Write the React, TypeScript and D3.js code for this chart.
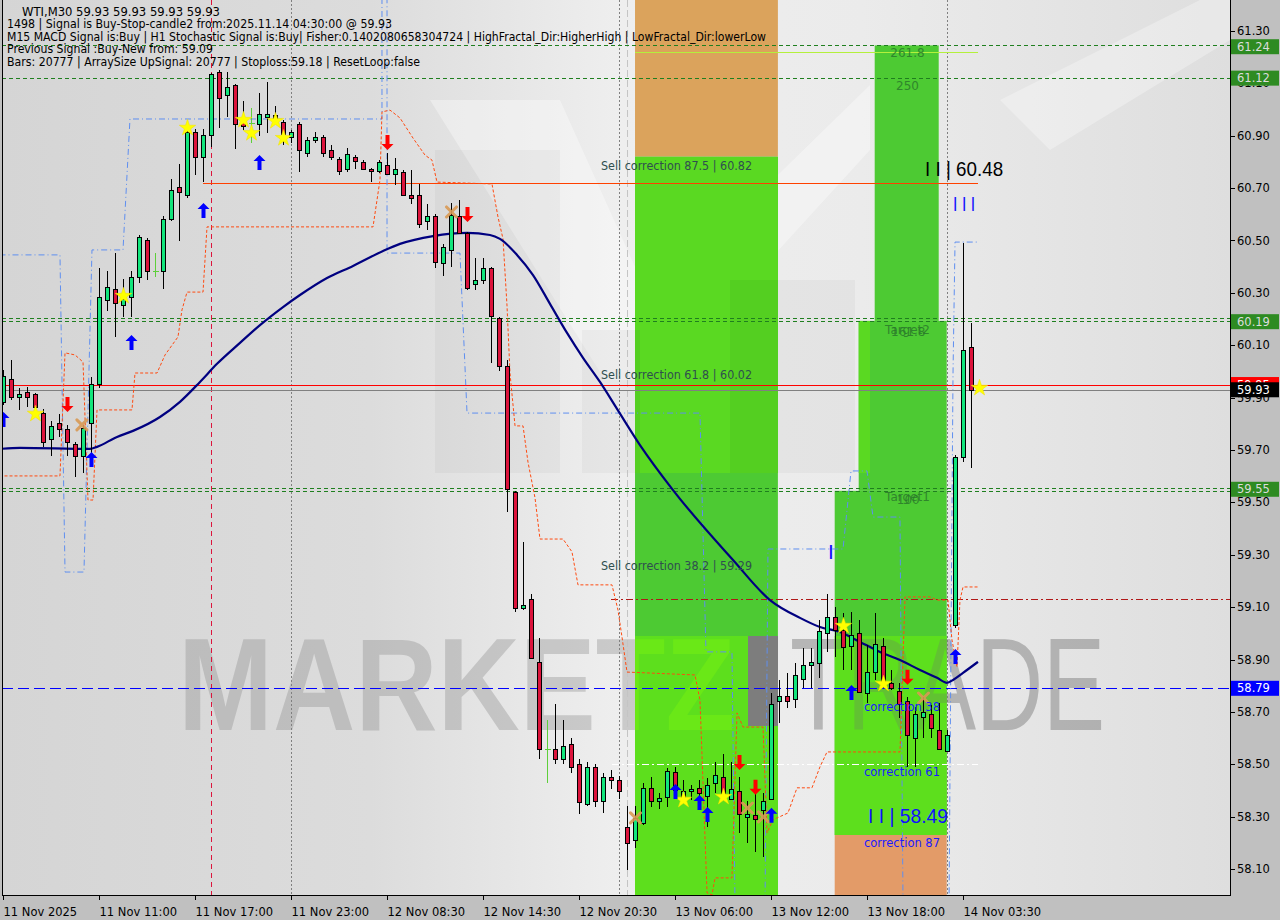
import React from "react";
import * as d3 from "d3";

// ---------- DATA ----------
// bar index 0..121 (30 min bars), [open, high, low, close]
const ohlc: [number, number, number, number][] = [
  [59.883, 60.005, 59.872, 59.983], [59.971, 60.044, 59.891, 59.902], [59.902, 59.937, 59.853, 59.914], [59.921, 59.941, 59.864, 59.902],
  [59.914, 59.918, 59.853, 59.864], [59.841, 59.857, 59.711, 59.731], [59.742, 59.811, 59.677, 59.792], [59.803, 59.837, 59.750, 59.780],
  [59.780, 59.795, 59.677, 59.731], [59.723, 59.731, 59.597, 59.677], [59.677, 59.795, 59.612, 59.784], [59.803, 59.979, 59.689, 59.952],
  [59.952, 60.395, 59.937, 60.284], [60.273, 60.383, 60.231, 60.322], [60.315, 60.452, 60.132, 60.261], [60.254, 60.353, 60.208, 60.277],
  [60.284, 60.383, 60.208, 60.360], [60.360, 60.521, 60.338, 60.513], [60.502, 60.510, 60.349, 60.383], [60.385, 60.452, 60.360, 60.385],
  [60.383, 60.593, 60.315, 60.582], [60.582, 60.735, 60.574, 60.693], [60.704, 60.792, 60.498, 60.685], [60.674, 60.941, 60.662, 60.914],
  [60.914, 60.926, 60.750, 60.819], [60.819, 60.926, 60.723, 60.903], [60.903, 61.140, 60.857, 61.136], [61.143, 61.151, 60.929, 61.044],
  [61.055, 61.143, 60.971, 61.086], [61.094, 61.097, 60.849, 60.945], [60.960, 61.033, 60.922, 60.937], [60.949, 61.006, 60.872, 60.949],
  [60.945, 61.063, 60.899, 60.983], [60.971, 61.105, 60.910, 60.983], [60.979, 61.014, 60.952, 60.960], [60.952, 60.960, 60.865, 60.907],
  [60.895, 60.922, 60.872, 60.914], [60.945, 60.952, 60.762, 60.846], [60.834, 60.895, 60.819, 60.884], [60.884, 60.914, 60.872, 60.895],
  [60.895, 60.903, 60.819, 60.834], [60.846, 60.865, 60.807, 60.819], [60.811, 60.819, 60.750, 60.765], [60.773, 60.853, 60.762, 60.830],
  [60.819, 60.826, 60.773, 60.803], [60.800, 60.807, 60.769, 60.773], [60.773, 60.777, 60.723, 60.765], [60.765, 60.807, 60.757, 60.800],
  [60.788, 60.834, 60.750, 60.754], [60.754, 60.815, 60.712, 60.773], [60.761, 60.769, 60.670, 60.674], [60.674, 60.769, 60.639, 60.662],
  [60.674, 60.716, 60.548, 60.563], [60.574, 60.639, 60.540, 60.593], [60.593, 60.601, 60.395, 60.418], [60.414, 60.487, 60.364, 60.475],
  [60.464, 60.643, 60.399, 60.597], [60.593, 60.654, 60.525, 60.528], [60.528, 60.532, 60.311, 60.319], [60.334, 60.433, 60.311, 60.349],
  [60.349, 60.433, 60.334, 60.395], [60.395, 60.399, 60.032, 60.212], [60.204, 60.208, 60.002, 60.021], [60.021, 60.044, 59.464, 59.551],
  [59.540, 59.544, 59.082, 59.097], [59.097, 59.349, 59.089, 59.108], [59.131, 59.150, 58.902, 58.906], [58.891, 58.982, 58.520, 58.559],
  [58.559, 58.669, 58.429, 58.559], [58.559, 58.730, 58.501, 58.520], [58.520, 58.669, 58.501, 58.570], [58.577, 58.600, 58.467, 58.490],
  [58.501, 58.520, 58.310, 58.356], [58.348, 58.509, 58.341, 58.490], [58.490, 58.501, 58.337, 58.360], [58.360, 58.467, 58.314, 58.452],
  [58.452, 58.478, 58.406, 58.440], [58.440, 58.455, 58.368, 58.398], [58.261, 58.341, 58.097, 58.200], [58.211, 58.341, 58.180, 58.295],
  [58.276, 58.429, 58.268, 58.410], [58.410, 58.452, 58.337, 58.360], [58.360, 58.390, 58.329, 58.371], [58.375, 58.486, 58.337, 58.474],
  [58.471, 58.490, 58.390, 58.402], [58.375, 58.440, 58.364, 58.398], [58.398, 58.421, 58.364, 58.406], [58.410, 58.440, 58.337, 58.390],
  [58.379, 58.448, 58.261, 58.421], [58.429, 58.509, 58.390, 58.459], [58.452, 58.539, 58.364, 58.390], [58.368, 58.509, 58.364, 58.406],
  [58.398, 58.452, 58.238, 58.310], [58.299, 58.360, 58.200, 58.310], [58.307, 58.390, 58.165, 58.291], [58.326, 58.390, 58.146, 58.360],
  [58.368, 58.772, 58.364, 58.730], [58.742, 58.822, 58.658, 58.761], [58.761, 58.849, 58.715, 58.742], [58.749, 58.887, 58.715, 58.841],
  [58.826, 58.944, 58.791, 58.879], [58.879, 58.944, 58.791, 58.891], [58.887, 59.051, 58.830, 59.009], [59.001, 59.150, 58.929, 59.062],
  [59.062, 59.101, 58.910, 59.013], [59.013, 59.078, 58.860, 58.948], [58.952, 59.082, 58.860, 58.994], [59.001, 59.051, 58.772, 58.776],
  [58.772, 58.956, 58.734, 58.852], [58.852, 59.078, 58.822, 58.959], [58.952, 58.982, 58.791, 58.799], [58.811, 58.860, 58.784, 58.791],
  [58.780, 58.811, 58.677, 58.730], [58.742, 58.757, 58.490, 58.612], [58.601, 58.719, 58.490, 58.692], [58.681, 58.757, 58.601, 58.700],
  [58.692, 58.727, 58.601, 58.639], [58.631, 58.734, 58.555, 58.559], [58.551, 58.631, 58.547, 58.612], [59.032, 59.681, 59.021, 59.673],
  [59.673, 60.491, 59.654, 60.082], [60.093, 60.185, 59.632, 59.930],
];

const timeTickBars = [0, 12, 24, 36, 48, 60, 72, 84, 96, 108, 120];
const timeTickLabels = [
  "11 Nov 2025", "11 Nov 11:00", "11 Nov 17:00", "11 Nov 23:00", "12 Nov 08:30", "12 Nov 14:30",
  "12 Nov 20:30", "13 Nov 06:00", "13 Nov 12:00", "13 Nov 18:00", "14 Nov 03:30",
];
const priceTicks = [58.1, 58.3, 58.5, 58.7, 58.9, 59.1, 59.3, 59.5, 59.7, 59.9, 60.1, 60.3, 60.5, 60.7, 60.9, 61.1, 61.3];

// moving average (bar, price)
const maLine: [number, number][] = [
  [-0.5, 59.704], [2.06, 59.708], [10.81, 59.704], [11.69, 59.712], [14.19, 59.75], [16.19, 59.773], [19.56, 59.826],
  [22.06, 59.884], [24.56, 59.96], [26.69, 60.029], [29.56, 60.109], [32.06, 60.177], [34.94, 60.246], [37.06, 60.292],
  [40.44, 60.357], [43.69, 60.403], [47.44, 60.46], [49.56, 60.487], [53.69, 60.517], [57.94, 60.529], [60.81, 60.521],
  [62.06, 60.506], [64.19, 60.445], [66.19, 60.368], [68.31, 60.258], [70.44, 60.147], [72.44, 60.052], [74.56, 59.96],
  [76.69, 59.857], [79.56, 59.719], [83.69, 59.547], [91.19, 59.28], [95.81, 59.127], [99.56, 59.059], [102.06, 59.024],
  [104.56, 59.005], [107.06, 58.967], [109.56, 58.929], [112.06, 58.898], [114.56, 58.86], [116.69, 58.83], [117.94, 58.811],
  [118.69, 58.822], [119.94, 58.849], [121.81, 58.891],
];

// blue stepped channel (dash-dot)
const blueStep: [number, number][] = [
  [-0.5, 60.445], [7.06, 60.445], [7.69, 59.234], [10.06, 59.234], [11.06, 60.464], [14.94, 60.464], [15.81, 60.964],
  [47.31, 60.964], [47.31, 61.456], [47.94, 61.456], [47.94, 60.452], [57.06, 60.452], [57.94, 59.841], [87.06, 59.841],
  [87.81, 58.929], [91.06, 58.929], [91.44, 57.963], [95.19, 57.963], [95.56, 59.322], [104.94, 59.322], [105.94, 59.62],
  [107.94, 59.62], [108.69, 59.444], [112.06, 59.444], [112.44, 57.963], [118.19, 57.963], [118.69, 59.994], [118.94, 60.494],
  [121.69, 60.494],
];

// orange stepped stop line (dotted)
const orangeStep: [number, number][] = [
  [-0.5, 59.601], [7.06, 59.601], [7.69, 60.071], [8.94, 60.063], [9.94, 60.036], [10.56, 59.509], [11.19, 59.509],
  [11.69, 59.853], [16.06, 59.853], [16.44, 59.994], [19.19, 59.994], [20.19, 60.063], [21.81, 60.132], [22.31, 60.235],
  [22.94, 60.303], [24.94, 60.303], [25.44, 60.552], [46.19, 60.552], [47.06, 60.731], [47.31, 60.991], [48.31, 60.998],
  [49.56, 60.968], [51.19, 60.891], [52.69, 60.826], [53.56, 60.807], [54.19, 60.723], [61.06, 60.716], [61.81, 60.59],
  [62.44, 60.506], [62.94, 60.25], [63.31, 59.994], [63.94, 59.792], [64.94, 59.792], [65.56, 59.654], [66.44, 59.517],
  [67.06, 59.36], [69.94, 59.36], [71.06, 59.311], [71.81, 59.185], [76.06, 59.185], [76.81, 59.089], [77.31, 58.986],
  [77.94, 58.852], [86.44, 58.841], [87.06, 58.745], [87.94, 58.009], [88.56, 58.001], [88.94, 58.066], [91.06, 58.066],
  [91.69, 58.696], [92.44, 58.642], [94.94, 58.642], [95.44, 58.238], [96.19, 58.288], [98.06, 58.314], [99.19, 58.41],
  [101.06, 58.41], [102.06, 58.49], [102.94, 58.547], [112.06, 58.547], [112.69, 59.139], [115.81, 59.139], [116.69, 59.127],
  [118.06, 59.127], [118.56, 58.975], [119.19, 58.872], [119.56, 59.127], [119.94, 59.177], [121.81, 59.177],
];

const starMarks: [number, number][] = [
  [4, 59.838], [15, 60.288], [23, 60.93], [30, 60.96], [31, 60.91], [34, 60.956], [35, 60.891],
  [85, 58.364], [90, 58.375], [105, 59.028], [110, 58.807], [122, 59.937],
];
const upArrows: [number, number][] = [
  [0, 59.815], [11, 59.662], [16, 60.109], [25, 60.613], [32, 60.796], [84, 58.394], [87, 58.352],
  [88, 58.306], [96, 58.303], [106, 58.772], [119, 58.91],
];
const downArrows: [number, number][] = [
  [8, 59.876], [48, 60.876], [58, 60.601], [92, 58.509], [94, 58.414], [113, 58.834],
];
const crossMarks: [number, number][] = [
  [9.8, 59.796], [56, 60.609], [79, 58.295], [93, 58.333], [95, 58.299], [115, 58.753],
];

// full-width horizontal levels
const greenLevels = [61.245, 61.12, 60.204, 60.193, 59.555, 59.544];
const bidLevel = 59.93;
const askLevel = 59.95;
const blueLevel = 58.79;
const stopLevel = 59.13;
const whiteLevel = 58.5;
const limeLevel = 61.22;
const sellLevel = 60.72;

// zones [barFrom, barTo, topPrice, bottomPrice]
const greenZones: [number, number, number, number][] = [
  [78.94, 96.8, 60.82, 57.9],
  [108.9, 116.9, 61.245, 60.193],
  [106.9, 117.9, 60.193, 59.544],
  [103.9, 117.9, 59.544, 58.23],
];
const orangeZoneTop: [number, number, number, number] = [78.94, 96.8, 61.6, 60.82];
const orangeZoneBottom: [number, number, number, number] = [103.9, 117.9, 58.23, 57.9];

const sellCorrections = [
  { bar: 74.69, price: 60.82, text: "Sell correction 87.5 | 60.82" },
  { bar: 74.69, price: 60.02, text: "Sell correction 61.8 | 60.02" },
  { bar: 74.69, price: 59.29, text: "Sell correction 38.2 | 59.29" },
];
const targetTexts = [
  { bar: 113, price: 61.245, text: "261.8" },
  { bar: 113, price: 61.12, text: "250" },
  { bar: 113, price: 60.19, text: "Target2" },
  { bar: 113.1, price: 60.18, text: "161.8" },
  { bar: 113, price: 59.55, text: "Target1" },
  { bar: 113.1, price: 59.54, text: "100" },
];
const correctionTexts = [
  { bar: 107.56, price: 58.75, text: "correction 38" },
  { bar: 107.56, price: 58.5, text: "correction 61" },
  { bar: 107.56, price: 58.23, text: "correction 87" },
];

const infoLines = [
  "WTI,M30  59.93 59.93 59.93 59.93",
  "1498 | Signal is Buy-Stop-candle2 from:2025.11.14 04:30:00 @ 59.93",
  "M15 MACD Signal is:Buy | H1 Stochastic Signal is:Buy| Fisher:0.1402080658304724 | HighFractal_Dir:HigherHigh | LowFractal_Dir:lowerLow",
  "Previous Signal :Buy-New from: 59.09",
  "Bars: 20777 | ArraySize UpSignal: 20777 | Stoploss:59.18 | ResetLoop:false",
];
const infoWidths = [198, 385, 759, 206, 413];
const infoX = [22, 7, 7, 7, 7];

const vLineBars = [26, 36, 77, 78, 118];

// ---------- CHART ----------
const PL = 2, PR = 1230, PT = 0, PB = 895;
const FONT = "'DejaVu Sans', Tahoma, sans-serif";

export default function App() {
  const x = d3.scaleLinear().domain([0, 121]).range([3.5, 971.5]);
  const y = d3.scaleLinear().domain([58.1, 61.3]).range([869, 31]);
  const cy = (p: number) => Math.round(y(p)) + 0.5;

  const line = d3.line<[number, number]>().x((d) => x(d[0])).y((d) => y(d[1]));
  const maGen = d3.line<[number, number]>().x((d) => x(d[0])).y((d) => y(d[1])).curve(d3.curveMonotoneX);
  const starPath = d3.symbol().type(d3.symbolStar).size(85)() as string;
  const upPath = "M0,-8 L6,-2 L2,-2 L2,7 L-2,7 L-2,-2 L-6,-2 Z";
  const downPath = "M0,8 L6,2 L2,2 L2,-7 L-2,-7 L-2,2 L-6,2 Z";

  const zoneRect = (z: [number, number, number, number], key: string, fill: string) => (
    <rect key={key} x={x(z[0])} y={y(z[2])} width={x(z[1]) - x(z[0])} height={y(z[3]) - y(z[2])} fill={fill} />
  );

  const bull = "#12e57c";
  const bear = "#dc143c";

  return (
    <div style={{ position: "absolute", left: 0, top: 0 }}>
      <svg width={1280} height={920} style={{ display: "block" }} fontFamily={FONT}>
        <defs>
          <linearGradient id="bgGrad" x1="0" x2="1" y1="0" y2="0">
            <stop offset="0" stopColor="#d5d5d5" />
            <stop offset="0.3" stopColor="#dcdcdc" />
            <stop offset="0.5" stopColor="#eeeeee" />
            <stop offset="0.7" stopColor="#ebebeb" />
            <stop offset="1" stopColor="#dedede" />
          </linearGradient>
          <clipPath id="plotClip">
            <rect x={PL} y={PT} width={PR - PL} height={PB - PT} />
          </clipPath>
          <clipPath id="greenClip">
            {greenZones.map((z, i) => (
              <rect key={i} x={x(z[0])} y={y(z[2])} width={x(z[1]) - x(z[0])} height={y(z[3]) - y(z[2])} />
            ))}
          </clipPath>
        </defs>

        {/* axis background */}
        <rect x={0} y={0} width={1280} height={920} fill="#c0c0c0" />

        <g clipPath="url(#plotClip)">
          {/* background */}
          <rect x={PL} y={PT} width={PR - PL} height={PB - PT} fill="url(#bgGrad)" />
          {/* logo watermark decoration */}
          <polygon points="430,100 560,100 650,300 870,85 870,150 660,380 605,380" fill="#ffffff" opacity={0.35} />
          <rect x={435} y={150} width={125} height={323} fill="#000000" opacity={0.03} />
          <rect x={582} y={330} width={58} height={143} fill="#000000" opacity={0.03} />
          <rect x={730} y={280} width={125} height={193} fill="#000000" opacity={0.03} />
          <polygon points="1000,100 1200,0 1230,0 1230,40 1050,150" fill="#ffffff" opacity={0.3} />

          {/* watermark text (gray) */}
          <text x={178} y={730} fontSize={131} fontWeight="bold" fontFamily="'Liberation Sans', Arial, sans-serif"
            textLength={557} lengthAdjust="spacingAndGlyphs" fill="#8c8c8c" opacity={0.36}>MARKETZ</text>
          <text x={790} y={730} fontSize={131} fontFamily="'Liberation Sans', Arial, sans-serif"
            textLength={315} lengthAdjust="spacingAndGlyphs" fill="#8c8c8c" opacity={0.3}>TRADE</text>

          {/* zones */}
          {zoneRect(orangeZoneTop, "ot", "#dba35c")}
          {greenZones.map((z, i) => zoneRect(z, "g" + i, "#4dca33"))}
          {zoneRect(orangeZoneBottom, "ob", "#e39b68")}
          <g clipPath="url(#greenClip)">
            <rect x={430} y={y(60.82)} width={440} height={473 - y(60.82)} fill="#5ad922" />
            <rect x={PL} y={636} width={PR - PL} height={PB - 636} fill="#5ddf1d" />
            <text x={178} y={730} fontSize={131} fontWeight="bold" fontFamily="'Liberation Sans', Arial, sans-serif"
              textLength={557} lengthAdjust="spacingAndGlyphs" fill="#6ae817">MARKETZ</text>
            <rect x={582} y={330} width={58} height={143} fill="#2a8a20" opacity={0.12} />
            <rect x={730} y={280} width={125} height={193} fill="#2a8a20" opacity={0.12} />
          </g>
          {/* "I" of watermark */}
          <rect x={748} y={636} width={30} height={90} fill="#7d7d7d" />
          <text x={790} y={730} fontSize={131} fontFamily="'Liberation Sans', Arial, sans-serif"
            textLength={315} lengthAdjust="spacingAndGlyphs" fill="#707070" opacity={0.25}>TRADE</text>

          {/* vertical separators */}
          {vLineBars.map((b, i) => {
            const xx = x(b);
            const style =
              i === 0 ? { stroke: "#dc143c", dash: "5,4" } :
              i === 3 ? { stroke: "#c4c4c4", dash: "7,3" } :
              { stroke: "#808080", dash: "2,2" };
            return <line key={i} x1={xx} x2={xx} y1={PT} y2={PB} stroke={style.stroke} strokeDasharray={style.dash} strokeWidth={1} />;
          })}

          {/* horizontal levels */}
          <g shapeRendering="crispEdges">
            {greenLevels.map((p, i) => (
              <line key={i} x1={PL} x2={PR} y1={cy(p)} y2={cy(p)} stroke="#1f7f1f" strokeDasharray="4,3" strokeWidth={1} />
            ))}
            <line x1={PL} x2={PR} y1={cy(askLevel)} y2={cy(askLevel)} stroke="#ff0000" strokeWidth={1} />
            <line x1={PL} x2={PR} y1={cy(bidLevel)} y2={cy(bidLevel)} stroke="#808080" strokeWidth={1} />
            <line x1={PL} x2={PR} y1={cy(blueLevel)} y2={cy(blueLevel)} stroke="#0000ff" strokeDasharray="11,5" strokeWidth={1} />
            <line x1={x(75.9)} x2={PR} y1={cy(stopLevel)} y2={cy(stopLevel)} stroke="#b01818" strokeDasharray="7,3,2,3" strokeWidth={1} />
            <line x1={x(76)} x2={x(121.8)} y1={cy(whiteLevel)} y2={cy(whiteLevel)} stroke="#ffffff" strokeDasharray="7,3,2,3" strokeWidth={1} />
            <line x1={x(78.94)} x2={x(121.8)} y1={cy(limeLevel)} y2={cy(limeLevel)} stroke="#b4f03c" strokeWidth={1} />
            <line x1={x(24.94)} x2={x(121.8)} y1={cy(sellLevel)} y2={cy(sellLevel)} stroke="#ff4000" strokeWidth={1} />
          </g>

          {/* stepped lines */}
          <path d={line(blueStep) as string} fill="none" stroke="#5f8ff0" strokeWidth={1} strokeDasharray="6,3,1,3" />
          <path d={line(orangeStep) as string} fill="none" stroke="#ff4a10" strokeWidth={1} strokeDasharray="3,2" />

          {/* moving average */}
          <path d={maGen(maLine) as string} fill="none" stroke="#000080" strokeWidth={2.2} />

          {/* candles */}
          {ohlc.map((c, i) => {
            const [o, h, l, cl] = c;
            const cx = x(i);
            const doji = Math.abs(o - cl) < 0.004;
            if (doji) {
              return (
                <g key={i} stroke="#5ecf3a" strokeWidth={1} shapeRendering="crispEdges">
                  <line x1={cx} x2={cx} y1={y(h)} y2={y(l)} />
                  <line x1={cx - 3} x2={cx + 3} y1={cy(o)} y2={cy(o)} />
                </g>
              );
            }
            const up = cl > o;
            const top = Math.round(y(Math.max(o, cl))) + 0.5;
            const bot = Math.round(y(Math.min(o, cl))) + 0.5;
            return (
              <g key={i} shapeRendering="crispEdges">
                <line x1={cx} x2={cx} y1={Math.round(y(h))} y2={Math.round(y(l))} stroke="#000" strokeWidth={1} />
                <rect x={cx - 2} y={top} width={4} height={Math.max(1, bot - top)} fill={up ? bull : bear} stroke="#000" strokeWidth={1} />
              </g>
            );
          })}

          {/* markers */}
          {crossMarks.map((m, i) => (
            <g key={i} transform={`translate(${x(m[0])},${y(m[1])})`} stroke="#d99a55" strokeWidth={3} opacity={0.9} strokeLinecap="round">
              <line x1={-5} y1={-5} x2={5} y2={5} />
              <line x1={-5} y1={5} x2={5} y2={-5} />
            </g>
          ))}
          {starMarks.map((m, i) => (
            <path key={i} d={starPath} transform={`translate(${x(m[0])},${y(m[1])})`} fill="#ffff00" stroke="#f0e000" strokeWidth={0.5} />
          ))}
          {upArrows.map((m, i) => (
            <path key={i} d={upPath} transform={`translate(${x(m[0])},${y(m[1])})`} fill="#0000ff" />
          ))}
          {downArrows.map((m, i) => (
            <path key={i} d={downPath} transform={`translate(${x(m[0])},${y(m[1])})`} fill="#ff0000" />
          ))}

          {/* annotations */}
          {sellCorrections.map((t, i) => (
            <text key={i} x={x(t.bar)} y={y(t.price) + 13} fontSize={11.5} fill="#2f4f4f"
              textLength={151} lengthAdjust="spacingAndGlyphs">{t.text}</text>
          ))}
          {targetTexts.map((t, i) => (
            <text key={i} x={x(t.bar)} y={y(t.price) + 12} fontSize={12} fill="#2b7a2b" textAnchor="middle" opacity={0.85}>{t.text}</text>
          ))}
          {correctionTexts.map((t, i) => (
            <text key={i} x={x(t.bar)} y={y(t.price) + 12} fontSize={11.5} fill="#1a1aff"
              textLength={76} lengthAdjust="spacingAndGlyphs">{t.text}</text>
          ))}
          <text x={x(115.2)} y={y(60.777) + 8} fontSize={21} fill="#000000" fontFamily="'Liberation Sans', Arial, sans-serif"
            textLength={78} lengthAdjust="spacingAndGlyphs">I I | 60.48</text>
          <text x={x(108.06)} y={y(58.306) + 8} fontSize={21} fill="#1010ff" fontFamily="'Liberation Sans', Arial, sans-serif"
            textLength={80} lengthAdjust="spacingAndGlyphs">I I | 58.49</text>
          <text x={x(118.7)} y={y(60.643) + 8} fontSize={21} fill="#1010ff" fontFamily="'Liberation Sans', Arial, sans-serif"
            textLength={22} lengthAdjust="spacingAndGlyphs">I I I</text>
          <text x={x(103.06)} y={y(59.315) + 8} fontSize={21} fill="#1010ff" fontFamily="'Liberation Sans', Arial, sans-serif">I</text>

          {/* info text */}
          {infoLines.map((t, i) => (
            <text key={i} x={infoX[i]} y={16 + i * 12.4} fontSize={11.5} fill="#000"
              textLength={infoWidths[i]} lengthAdjust="spacingAndGlyphs">{t}</text>
          ))}
        </g>

        {/* frame */}
        <line x1={2.5} x2={2.5} y1={0} y2={PB + 0.5} stroke="#000" />
        <line x1={PR + 0.5} x2={PR + 0.5} y1={0} y2={PB + 0.5} stroke="#000" />
        <line x1={2} x2={PR + 1} y1={PB + 0.5} y2={PB + 0.5} stroke="#000" />

        {/* right axis */}
        {priceTicks.map((p, i) => (
          <g key={i}>
            <line x1={PR} x2={PR + 5} y1={cy(p)} y2={cy(p)} stroke="#000" />
            <text x={1237} y={y(p)} dy="0.35em" fontSize={11.5} fill="#000">{p.toFixed(2)}</text>
          </g>
        ))}
        {[
          { p: 61.24, bg: "#2e8b22", fg: "#dcdcdc" },
          { p: 61.12, bg: "#2e8b22", fg: "#dcdcdc" },
          { p: 60.19, bg: "#2e8b22", fg: "#dcdcdc" },
          { p: 59.55, bg: "#2e8b22", fg: "#dcdcdc" },
          { p: askLevel, bg: "#ff0000", fg: "#ffffff" },
          { p: bidLevel, bg: "#000000", fg: "#ffffff" },
          { p: blueLevel, bg: "#0000ff", fg: "#ffffff" },
        ].map((b, i) => (
          <g key={i}>
            <rect x={PR + 1} y={y(b.p) - 7.5} width={48} height={15} fill={b.bg} />
            <text x={1237} y={y(b.p)} dy="0.35em" fontSize={11.5} fill={b.fg}>{b.p.toFixed(2)}</text>
          </g>
        ))}

        {/* bottom axis */}
        {timeTickBars.map((b, i) => (
          <g key={i}>
            <line x1={x(b)} x2={x(b)} y1={PB} y2={PB + 5} stroke="#000" />
            <text x={x(b)} y={916} fontSize={11.5} fill="#000">{timeTickLabels[i]}</text>
          </g>
        ))}
      </svg>
    </div>
  );
}
